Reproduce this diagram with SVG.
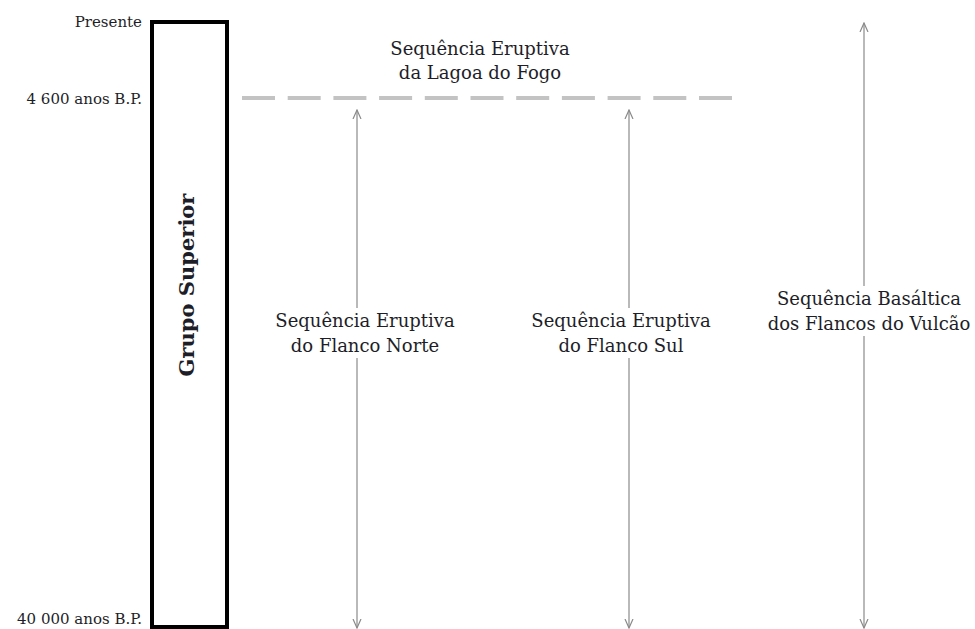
<svg xmlns="http://www.w3.org/2000/svg" width="975" height="629" viewBox="0 0 975 629">
<defs>
<style>
.t{font-family:"DejaVu Serif","Liberation Serif",serif;fill:#1e1e28}
.lbl{font-size:18px;text-anchor:middle}
.tick{font-size:15px;text-anchor:end}
.arr{stroke:#8a8a8a;stroke-width:1.2;fill:none}
</style>
<marker id="ah" viewBox="0 0 10 10" refX="9" refY="5" markerWidth="10" markerHeight="10" markerUnits="userSpaceOnUse" orient="auto-start-reverse">
<path d="M0,1 L9,5 L0,9" fill="none" stroke="#8a8a8a" stroke-width="1.2"/>
</marker>
</defs>
<rect width="975" height="629" fill="#fff"/>
<g id="axis">
<text class="t tick" x="142" y="27">Presente</text>
<text class="t tick" x="142" y="104">4 600 anos B.P.</text>
<text class="t tick" x="142" y="624">40 000 anos B.P.</text>
</g>
<g id="grupo-superior">
<rect x="152" y="22" width="75" height="605" fill="#fff" stroke="#000" stroke-width="4"/>
<text class="t" transform="translate(194,285) rotate(-90)" text-anchor="middle" font-size="21" font-weight="bold">Grupo Superior</text>
</g>
<g id="lagoa-fogo">
<line x1="242" y1="98" x2="732" y2="98" stroke="#c3c3c3" stroke-width="4" stroke-dasharray="33 12.7"/>
<text class="t lbl" x="480" y="55">Sequência Eruptiva</text>
<text class="t lbl" x="480" y="79">da Lagoa do Fogo</text>
</g>
<g id="connectors">
<line class="arr" x1="357" y1="110" x2="357" y2="628" marker-start="url(#ah)" marker-end="url(#ah)"/>
<line class="arr" x1="629" y1="110" x2="629" y2="628" marker-start="url(#ah)" marker-end="url(#ah)"/>
<line class="arr" x1="864" y1="23" x2="864" y2="628" marker-start="url(#ah)" marker-end="url(#ah)"/>
</g>
<g id="flanco-norte">
<rect x="266" y="308" width="198" height="50" fill="#fff"/>
<text class="t lbl" x="365" y="327">Sequência Eruptiva</text>
<text class="t lbl" x="365" y="352">do Flanco Norte</text>
</g>
<g id="flanco-sul">
<rect x="534" y="308" width="174" height="50" fill="#fff"/>
<text class="t lbl" x="621" y="327">Sequência Eruptiva</text>
<text class="t lbl" x="621" y="352">do Flanco Sul</text>
</g>
<g id="basaltica">
<rect x="762" y="286" width="212" height="50" fill="#fff"/>
<text class="t lbl" x="869" y="305">Sequência Basáltica</text>
<text class="t lbl" x="869" y="330">dos Flancos do Vulcão</text>
</g>
</svg>
